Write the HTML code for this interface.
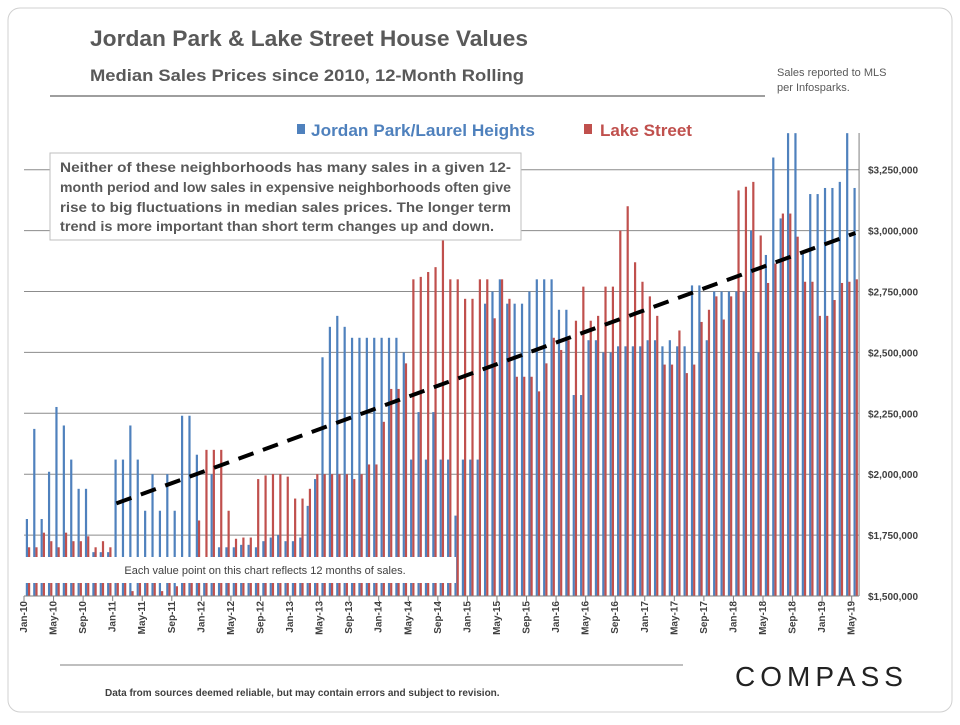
<!DOCTYPE html>
<html><head><meta charset="utf-8"><style>
body{margin:0;background:#fff;font-family:"Liberation Sans",sans-serif;}
svg text{font-family:"Liberation Sans",sans-serif;}
</style></head><body>
<svg id="chart" width="960" height="720">
<rect x="8" y="8" width="944" height="704" rx="12" fill="#fff" stroke="#d0d0d0"/>
<text x="90" y="46" font-size="22" font-weight="bold" fill="#595959" textLength="438" lengthAdjust="spacingAndGlyphs">Jordan Park &amp; Lake Street House Values</text>
<text x="90" y="81" font-size="17" font-weight="bold" fill="#595959" textLength="434" lengthAdjust="spacingAndGlyphs">Median Sales Prices since 2010, 12-Month Rolling</text>
<line x1="50" y1="96" x2="765" y2="96" stroke="#7f7f7f" stroke-width="1.5"/>
<text x="777" y="76" font-size="11" fill="#595959">Sales reported to MLS</text>
<text x="777" y="91" font-size="11" fill="#595959">per Infosparks.</text>
<g>
<rect x="297" y="124" width="8" height="10" fill="#4F81BD"/>
<text x="311" y="136" font-size="17" font-weight="bold" fill="#4F81BD" textLength="224" lengthAdjust="spacingAndGlyphs">Jordan Park/Laurel Heights</text>
<rect x="584" y="124" width="8" height="10" fill="#C0504D"/>
<text x="600" y="136" font-size="17" font-weight="bold" fill="#C0504D" textLength="92" lengthAdjust="spacingAndGlyphs">Lake Street</text>
</g>
<defs><clipPath id="pc"><rect x="20" y="133" width="845" height="470"/></clipPath></defs>
<g id="grid"></g>
<g id="bars" clip-path="url(#pc)"></g>
<g id="trend"></g>
<g id="axes"></g>
<rect x="24" y="557" width="432" height="26" fill="#fff"/>
<text x="265" y="574" font-size="11" fill="#404040" text-anchor="middle">Each value point on this chart reflects 12 months of sales.</text>
<g>
<rect x="50" y="153" width="471" height="87" fill="#fff" stroke="#bfbfbf"/>
<text font-size="14" font-weight="bold" fill="#595959" lengthAdjust="spacingAndGlyphs">
<tspan x="60" y="172" textLength="451" lengthAdjust="spacingAndGlyphs">Neither of these neighborhoods has many sales in a given 12-</tspan>
<tspan x="60" y="192" textLength="451" lengthAdjust="spacingAndGlyphs">month period and low sales in expensive neighborhoods often give</tspan>
<tspan x="60" y="212" textLength="451" lengthAdjust="spacingAndGlyphs">rise to big fluctuations in median sales prices. The longer term</tspan>
<tspan x="60" y="231" textLength="434" lengthAdjust="spacingAndGlyphs">trend is more important than short term changes up and down.</tspan>
</text></g>
<line x1="60" y1="665" x2="683" y2="665" stroke="#7f7f7f"/>
<text x="735" y="686" font-size="28" fill="#222" letter-spacing="5">COMPASS</text>
<text x="105" y="696" font-size="10" font-weight="bold" fill="#404040">Data from sources deemed reliable, but may contain errors and subject to revision.</text>
</svg>
<script>
const months=["Jan","Feb","Mar","Apr","May","Jun","Jul","Aug","Sep","Oct","Nov","Dec"];
const jordan=[1.816,2.186,1.816,2.01,2.276,2.2,2.06,1.94,1.94,1.68,1.68,1.68,
2.06,2.06,2.2,2.06,1.85,2.0,1.85,2.0,1.85,2.24,2.24,2.08,
1.66,2.0,1.7,1.7,1.7,1.71,1.71,1.7,1.725,1.74,1.75,1.725,
1.725,1.74,1.87,1.98,2.48,2.605,2.65,2.605,2.56,2.56,2.56,2.56,
2.56,2.56,2.56,2.5,2.06,2.255,2.06,2.255,2.06,2.06,1.83,2.06,
2.06,2.06,2.7,2.75,2.8,2.7,2.7,2.7,2.75,2.8,2.8,2.8,
2.675,2.675,2.325,2.325,2.55,2.55,2.5,2.5,2.525,2.525,2.525,2.525,
2.55,2.55,2.525,2.55,2.525,2.525,2.775,2.775,2.55,2.75,2.75,2.75,
2.75,2.75,3.0,2.5,2.9,3.3,3.05,3.4,3.4,2.915,3.15,3.15,
3.175,3.175,3.2,3.4,3.175];
const lake=[1.7,1.7,1.76,1.725,1.7,1.76,1.725,1.725,1.745,1.7,1.725,1.7,
1.6,1.6,1.52,1.6,1.6,1.6,1.52,1.6,1.54,1.6,1.6,1.81,
2.1,2.1,2.1,1.85,1.735,1.74,1.74,1.98,1.995,2.0,2.0,1.99,
1.9,1.9,1.94,2.0,2.0,2.0,2.0,2.0,1.98,2.0,2.04,2.04,
2.215,2.35,2.35,2.455,2.8,2.81,2.83,2.85,2.96,2.8,2.8,2.72,
2.72,2.8,2.8,2.64,2.8,2.72,2.4,2.4,2.4,2.34,2.455,2.56,
2.51,2.55,2.63,2.77,2.63,2.65,2.77,2.77,3.0,3.1,2.87,2.79,
2.73,2.65,2.45,2.45,2.59,2.415,2.45,2.625,2.675,2.73,2.635,2.73,
3.165,3.18,3.2,2.98,2.785,2.865,3.07,3.07,2.975,2.79,2.79,2.65,
2.65,2.715,2.785,2.79,2.8];
const trendStart=[12,1.88];
const trendEnd=[112,2.99];
const yTicks=[1.5,1.75,2.0,2.25,2.5,2.75,3.0,3.25];
const yTickLabels=["$1,500,000","$1,750,000","$2,000,000","$2,250,000","$2,500,000","$2,750,000","$3,000,000","$3,250,000"];
const NS="http://www.w3.org/2000/svg";
const X0=24,STEP=7.39,Y0=596,PXM=60.9/0.25;
function xc(i){return X0+STEP*i;}
function y(v){return Y0-(v-1.5)*PXM;}
function mk(t,a,p){const e=document.createElementNS(NS,t);for(const k in a)e.setAttribute(k,a[k]);p.appendChild(e);return e;}
const grid=document.getElementById('grid'),bars=document.getElementById('bars'),axes=document.getElementById('axes'),trend=document.getElementById('trend');
const n=jordan.length;const XR=xc(n);
yTicks.forEach((v,k)=>{
 if(k>0){const g=mk('line',{x1:X0,x2:XR,y1:y(v),y2:y(v),stroke:'#8c8c8c','stroke-width':1},grid);
 
 }
 const t=mk('text',{x:868,y:y(v)+4,'font-size':10,'font-weight':'bold',fill:'#404040'},axes);t.textContent=yTickLabels[k];
 
 
});
for(let i=0;i<n;i++){
 const b=mk('rect',{x:xc(i)+1.8,y:y(jordan[i]),width:2.2,height:Y0-y(jordan[i]),fill:'#4F81BD'},bars);
 
 
 const r=mk('rect',{x:xc(i)+4,y:y(lake[i]),width:2.2,height:Y0-y(lake[i]),fill:'#C0504D'},bars);
 
 
 if(i%4===0){
  const tk=mk('line',{x1:xc(i),x2:xc(i),y1:Y0,y2:Y0+5,stroke:'#7f7f7f'},axes);
  
  
  const lbl=months[i%12]+"-"+(10+Math.floor(i/12));
  const t=mk('text',{x:0,y:0,'font-size':10,'font-weight':'bold',fill:'#404040','text-anchor':'end',transform:`translate(${xc(i)+3},${Y0+5}) rotate(-90)`},axes);
  t.textContent=lbl;
  
  
 }
}
const ax=mk('line',{x1:X0,x2:XR,y1:Y0,y2:Y0,stroke:'#7f7f7f'},axes);


const ay=mk('line',{x1:XR,x2:XR,y1:133,y2:Y0,stroke:'#7f7f7f'},axes);


const tl=mk('line',{x1:xc(trendStart[0])+3.7,y1:y(trendStart[1]),x2:xc(trendEnd[0])+3.7,y2:y(trendEnd[1]),stroke:'#000','stroke-width':4,'stroke-dasharray':'16 10'},trend);


</script>
</body></html>
